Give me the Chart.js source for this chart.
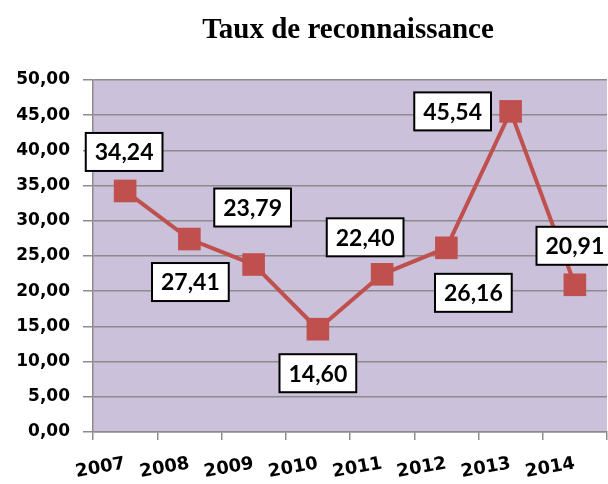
<!DOCTYPE html>
<html>
<head>
<meta charset="utf-8">
<script src="https://cdn.jsdelivr.net/npm/chart.js@4"></script>
<style>
  html, body { margin: 0; padding: 0; background: #fff; }
  #wrap { width: 608px; height: 484px; }
</style>
</head>
<body>
<div id="wrap"><canvas id="myChart" width="608" height="484"></canvas></div>
<script>
const years = ['2007', '2008', '2009', '2010', '2011', '2012', '2013', '2014'];
const taux = [34.24, 27.41, 23.79, 14.60, 22.40, 26.16, 45.54, 20.91];
const titleText = 'Taux de reconnaissance';

// where each value box sits relative to its point (dx, dy in px)
const labelOffsets = [[-1, -39], [1, 43], [-1, -57], [0, 44], [-17, -37], [27, 45], [-58, 0], [0, -39]];

const fmt = v => v.toFixed(2).replace('.', ',');

const bgPlugin = {
    id: 'plotBg',
    beforeDraw(chart) {
        const { ctx, chartArea: a } = chart;
        ctx.save();
        ctx.fillStyle = '#CCC1DA';
        ctx.fillRect(a.left, a.top, a.right - a.left, a.bottom - a.top);
        ctx.restore();
    }
};

const titlePlugin = {
    id: 'myTitle',
    afterDraw(chart) {
        const { ctx, chartArea: a } = chart;
        ctx.save();
        ctx.font = 'bold 29px "Liberation Serif"';
        ctx.fillStyle = '#000';
        ctx.textAlign = 'center';
        ctx.textBaseline = 'alphabetic';
        ctx.fillText(titleText, (a.left + a.right) / 2 - 2, 38);
        ctx.restore();
    }
};

const boxLabels = {
    id: 'boxLabels',
    afterDatasetsDraw(chart) {
        const ctx = chart.ctx;
        const meta = chart.getDatasetMeta(0);
        ctx.save();
        ctx.font = 'bold 23px Lato';
        ctx.textAlign = 'center';
        ctx.textBaseline = 'middle';
        meta.data.forEach((pt, i) => {
            const txt = fmt(taux[i]);
            const cx = pt.x + labelOffsets[i][0];
            const cy = pt.y + labelOffsets[i][1];
            const w = ctx.measureText(txt).width + 18;
            const h = 38;
            ctx.fillStyle = '#fff';
            ctx.fillRect(cx - w / 2, cy - h / 2, w, h);
            ctx.lineWidth = 2;
            ctx.strokeStyle = '#000';
            ctx.strokeRect(cx - w / 2, cy - h / 2, w, h);
            ctx.fillStyle = '#000';
            ctx.fillText(txt, cx, cy + 1);
        });
        ctx.restore();
    }
};

const ctx = document.getElementById('myChart').getContext('2d');
new Chart(ctx, {
    type: 'line',
    data: {
        labels: years,
        datasets: [{
            data: taux,
            borderColor: '#C0504D',
            backgroundColor: '#C0504D',
            borderWidth: 4,
            pointStyle: 'rect',
            pointRadius: 16,
            pointHoverRadius: 16,
            pointBorderWidth: 0,
            tension: 0,
            clip: false
        }]
    },
    options: {
        responsive: false,
        animation: false,
        devicePixelRatio: 1,
        layout: { autoPadding: false, padding: { top: 80, right: 1, left: 0, bottom: 0 } },
        plugins: {
            legend: { display: false },
            title: { display: false },
            tooltip: { enabled: false }
        },
        scales: {
            x: {
                offset: true,
                grid: {
                    offset: true,
                    drawOnChartArea: false,
                    drawTicks: true,
                    tickLength: 8,
                    color: '#8C8C8C',
                    lineWidth: 1.5
                },
                border: { color: '#8C8C8C', width: 1.5 },
                ticks: {
                    color: '#000',
                    font: { family: 'DejaVu Sans', weight: 'bold', size: 18 },
                    minRotation: 10,
                    maxRotation: 10,
                    padding: 13,
                    autoSkip: false
                },
                afterFit(scale) {
                    scale.height = 52;
                    scale.paddingLeft = 0;
                    scale.paddingRight = 0;
                }
            },
            y: {
                min: 0,
                max: 50,
                ticks: {
                    stepSize: 5,
                    color: '#000',
                    font: { family: 'DejaVu Sans', weight: 'bold', size: 17 },
                    padding: 13,
                    callback: v => fmt(v)
                },
                grid: {
                    color: '#8C8C8C',
                    lineWidth: 1.5,
                    tickLength: 10
                },
                border: { color: '#8C8C8C', width: 1.5 },
                afterFit(scale) {
                    scale.width = 93;
                    scale.paddingTop = 0;
                    scale.paddingBottom = 0;
                }
            }
        }
    },
    plugins: [bgPlugin, boxLabels, titlePlugin]
});
</script>
</body>
</html>
